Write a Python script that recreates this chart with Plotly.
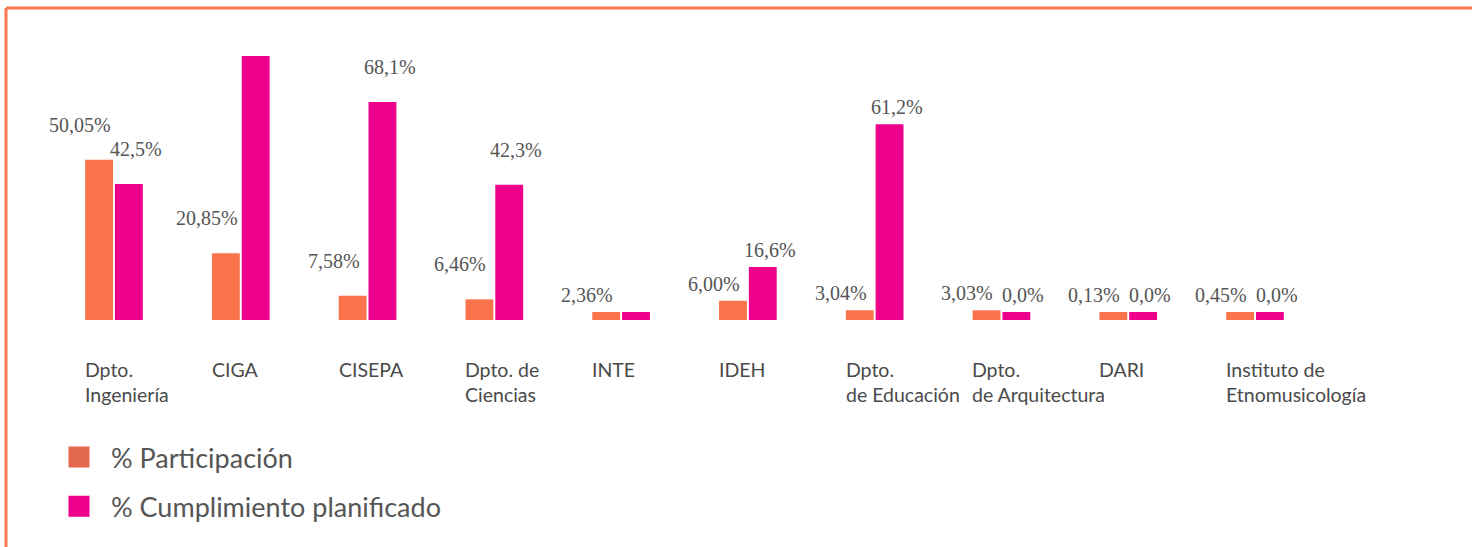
import plotly.graph_objects as go

categories = ["Dpto. Ingeniería", "CIGA", "CISEPA", "Dpto. de Ciencias", "INTE", "IDEH",
              "Dpto. de Educación", "Dpto. de Arquitectura", "DARI", "Instituto de Etnomusicología"]
tick_labels = ["Dpto.<br>Ingeniería", "CIGA", "CISEPA", "Dpto. de<br>Ciencias", "INTE", "IDEH",
               "Dpto.<br>de Educación", "Dpto.<br>de Arquitectura", "DARI", "Instituto de<br>Etnomusicología"]
participacion = [50.05, 20.85, 7.58, 6.46, 2.36, 6.00, 3.04, 3.03, 0.13, 0.45]
cumplimiento = [42.5, 82.5, 68.1, 42.3, 0.0, 16.6, 61.2, 0.0, 0.0, 0.0]
# CIGA and INTE have no printed value for cumplimiento in the source
cumplimiento_shown = [True, False, True, True, False, True, True, True, True, True]

ORANGE = "#F9734B"
MAGENTA = "#EC008C"
LEG_ORANGE = "#E5694E"
GREY = "#555555"

W, H = 1472, 547
ML, MR, MT, MB = 47, 104, 32, 227
plot_w = W - ML - MR
plot_h = H - MT - MB
MIN_H = 2.5  # small bars are drawn with a minimum visible height

def pct(v, d):
    return f"{v:.{d}f}".replace(".", ",") + "%"

part_h = [max(v, MIN_H) for v in participacion]
cump_h = [max(v, MIN_H) for v in cumplimiento]

fig = go.Figure()
fig.add_trace(go.Bar(x=categories, y=part_h, marker=dict(color=ORANGE, line=dict(width=0)),
                     showlegend=False, hoverinfo="skip"))
fig.add_trace(go.Bar(x=categories, y=cump_h, marker=dict(color=MAGENTA, line=dict(width=0)),
                     showlegend=False, hoverinfo="skip"))

# legend entries with big square swatches
for name, col in [("% Participación", LEG_ORANGE), ("% Cumplimiento planificado", MAGENTA)]:
    fig.add_trace(go.Scatter(x=[None], y=[None], mode="markers", name=name, legendgroup=name,
                             marker=dict(symbol="square", size=16, color=col,
                                         line=dict(color=col, width=5))))

lift = [35, 35, 35, 35, 17, 17, 17, 17, 17, 17]
label_font = dict(family="Liberation Serif", size=20, color=GREY)
for i, cat in enumerate(categories):
    fig.add_annotation(x=cat, y=part_h[i], text=pct(participacion[i], 2), showarrow=False,
                       xshift=-34, yshift=lift[i], yanchor="middle", font=label_font)
    if cumplimiento_shown[i]:
        fig.add_annotation(x=cat, y=cump_h[i], text=pct(cumplimiento[i], 1), showarrow=False,
                           xshift=22, yshift=lift[i], yanchor="middle", font=label_font)
    fig.add_annotation(x=cat, y=0, text=tick_labels[i], showarrow=False, align="left",
                       xanchor="left", yanchor="top", xshift=-31, yshift=-36,
                       font=dict(family="Lato", size=19.5, color="#4a4a4a"))

# orange frame (top and left edges visible)
def px_x(p):
    return (p - ML) / plot_w

def px_y(p):
    return (H - MB - p) / plot_h

frame = dict(color="#F8784F", width=3)
fig.add_shape(type="line", xref="paper", yref="paper", x0=px_x(6), x1=px_x(W + 10),
              y0=px_y(8), y1=px_y(8), line=frame)
fig.add_shape(type="line", xref="paper", yref="paper", x0=px_x(6), x1=px_x(6),
              y0=px_y(8), y1=px_y(H + 10), line=frame)

fig.update_layout(
    width=W, height=H,
    margin=dict(l=ML, r=MR, t=MT, b=MB, autoexpand=False),
    plot_bgcolor="white", paper_bgcolor="white",
    barmode="group", bargap=0.53, bargroupgap=0.065,
    xaxis=dict(showticklabels=False, showgrid=False, zeroline=False, showline=False, ticks=""),
    yaxis=dict(range=[0, 90], visible=False),
    legend=dict(xref="container", yref="container", x=47 / W, y=1 - 433 / H,
                xanchor="left", yanchor="top", traceorder="grouped", tracegroupgap=11,
                font=dict(family="Lato", size=27, color=GREY), itemwidth=54,
                bgcolor="rgba(0,0,0,0)"),
)

fig.write_html("out.html", config={"displayModeBar": False},
               post_script="document.body.style.margin='0';")
